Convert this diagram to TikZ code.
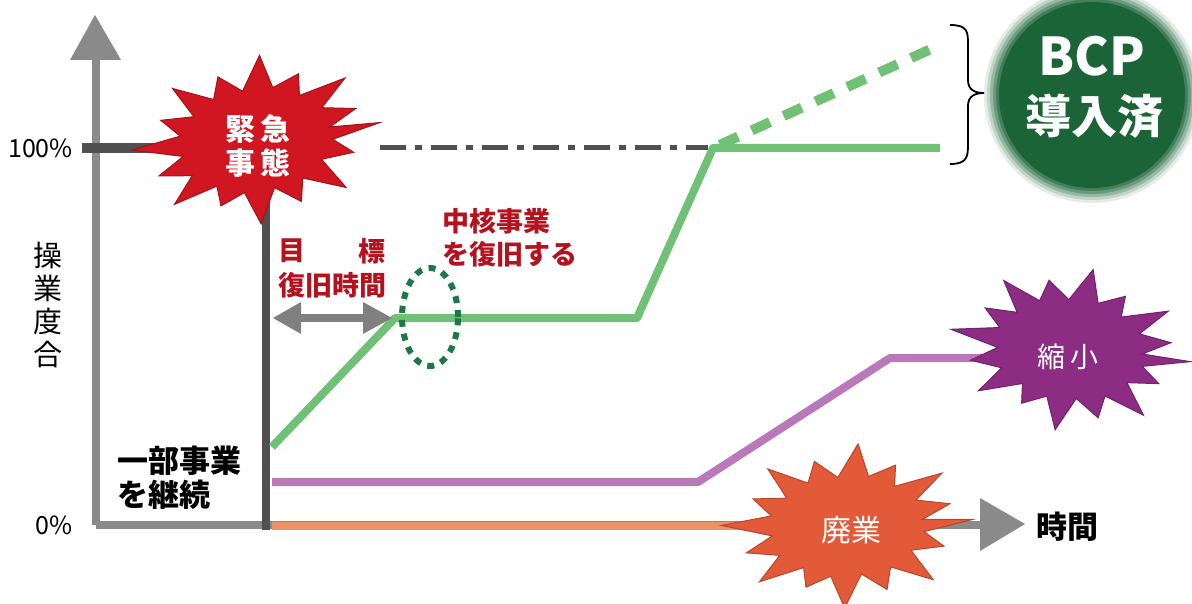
\documentclass[tikz,border=0pt]{standalone}
\usepackage{fontspec}
\setmainfont{Noto Sans CJK JP}
\usetikzlibrary{calc,shapes.geometric}
\definecolor{axisgray}{RGB}{138,138,138}
\definecolor{darkline}{RGB}{80,80,80}
\definecolor{lgreen}{RGB}{112,192,120}
\definecolor{dgreen}{RGB}{30,120,70}
\definecolor{bcpgreen}{RGB}{27,100,55}
\definecolor{burstred}{RGB}{208,22,32}
\definecolor{burstpurple}{RGB}{140,44,130}
\definecolor{burstorange}{RGB}{226,90,56}
\definecolor{lpurple}{RGB}{184,120,186}
\definecolor{lorange}{RGB}{234,146,104}
\definecolor{labelred}{RGB}{180,18,30}
\def\burstpts{11/0.62, 22/0.82, 34/0.6, 47/0.97, 58/0.62, 70/0.85, 81/0.6, 93/1.0, 104/0.62, 116/0.8, 127/0.6, 139/0.95, 150/0.63, 162/0.85, 173/0.6, 185/1.0, 196/0.62, 208/0.83, 219/0.6, 231/0.96, 242/0.62, 254/0.84, 265/0.6, 277/1.0, 288/0.62, 300/0.82, 311/0.6, 323/0.97, 334/0.62, 346/0.85, 357/0.6}
\newcommand\myburst[5]{%
  \begin{scope}[shift={(#1)},x=#2pt,y=-#3pt,rotate=#5]
    \filldraw[fill=#4,draw=#4!80!black,line width=1pt,line join=miter] (0:1) \foreach \a/\r in \burstpts { -- (\a:\r) } -- cycle;
  \end{scope}}
\tikzset{
  axisline/.style={axisgray,line width=8pt},
  gline/.style={lgreen,line width=8pt,line join=round},
  jtext/.style={font=\fontsize{27}{30}\selectfont\bfseries,inner sep=0pt},
  redlabel/.style={jtext,text=labelred},
  whitelabel/.style={font=\fontsize{30}{34}\selectfont,text=white,inner sep=0pt},
  blacklabel/.style={font=\fontsize{31}{35}\selectfont\bfseries,inner sep=0pt},
}
\begin{document}
\begin{tikzpicture}[x=1pt,y=-1pt]
\useasboundingbox (0,0) rectangle (1192,604);
% coordinates
\coordinate (o) at (96,525);
\coordinate (ytop) at (96,60);
\coordinate (xend) at (980,525);
\coordinate (hund) at (82,148);
\coordinate (ev) at (266,148);
\coordinate (evb) at (266,530);
% axes
\draw[axisline] (o) -- (ytop);
\fill[axisgray] (70,60) -- (121,60) -- (95,15) -- cycle;
\draw[axisline] (o) -- (xend);
\fill[axisgray] (980,498) -- (980,551) -- (1025,524) -- cycle;
% 100% line and event line
\draw[darkline,line width=10pt] (hund) -- (ev);
\draw[darkline,line width=8pt] (ev) -- (evb);
% dash-dot line
\coordinate (dd1) at (380,148);
\coordinate (dd2) at (708,148);
\draw[darkline,line width=5pt,dash pattern=on 26pt off 9pt on 7pt off 9pt] (dd1) -- (dd2);
% green recovery line
\coordinate (g0) at (272,447);
\coordinate (g1) at (395,318);
\coordinate (g2) at (637,318);
\coordinate (g3) at (713,148);
\coordinate (g4) at (940,148);
\coordinate (g5) at (942,44);
\draw[gline] (g0) -- (g1) -- (g2) -- (g3) -- (g4);
\draw[lgreen,line width=10pt,dash pattern=on 20pt off 15pt] ($(g3)!0.03!(g5)$) -- (g5);
% purple line
\coordinate (p0) at (272,482);
\coordinate (p1) at (698,482);
\coordinate (p2) at (890,358);
\coordinate (p3) at (1000,358);
\draw[lpurple,line width=8pt,line join=round] (p0) -- (p1) -- (p2) -- (p3);
% orange line
\coordinate (r0) at (272,526);
\coordinate (r1) at (850,526);
\draw[lorange,line width=8pt] (r0) -- (r1);
% double arrow
\coordinate (da1) at (273,318);
\coordinate (da2) at (392,318);
\draw[gray,line width=8pt] (298,318) -- (366,318);
\fill[gray] (da1) -- (301,302) -- (301,334) -- cycle;
\fill[gray] (da2) -- (363,302) -- (363,334) -- cycle;
% dotted ellipse
\node[draw=dgreen,line width=6pt,dash pattern=on 7pt off 7pt,ellipse,minimum width=56pt,minimum height=98pt,inner sep=0pt] (core) at (430,317) {};
% brace
\draw[black,line width=1.8pt] (950,25) .. controls (968,25) and (968,32) .. (968,45) -- (968,80) .. controls (968,90) and (975,93) .. (984,93) .. controls (975,93) and (968,96) .. (968,106) -- (968,143) .. controls (968,156) and (968,164) .. (950,164);
% BCP circle
\foreach \r/\o in {108/0.12,105/0.18,102/0.25,99/0.35,96/0.5,93/1}{
  \fill[bcpgreen,opacity=\o] (1092,95) circle (\r pt);
}
\node[font=\fontsize{52}{56}\selectfont\bfseries,text=white,inner sep=0pt] (bcp) at (1092,56) {BCP};
\node[font=\fontsize{46}{50}\selectfont\bfseries,text=white,inner sep=0pt] (dounyu) at (1094,116) {導入済};
% bursts
\myburst{256,140}{125}{84}{burstred}{8}
\myburst{1070,349}{121}{82}{burstpurple}{-6}
\myburst{847,526}{126}{82}{burstorange}{3}
% burst texts
\node[whitelabel,font=\fontsize{30}{34}\selectfont\bfseries,align=center] (kinkyu) at (258,146) {緊\,急\\事\,態};
\node[whitelabel,font=\fontsize{28}{32}\selectfont] (shukusho) at (1068,357) {縮\,小};
\node[whitelabel] (haigyo) at (851,530) {廃業};
% labels
\node[redlabel] (moku) at (292,251) {目};
\node[redlabel] (hyo) at (372,251) {標};
\node[redlabel] (fukkyu) at (332,285) {復旧時間};
\node[redlabel,anchor=west] (chukaku) at (442,221) {中核事業};
\node[redlabel,anchor=west] (wofukkyu) at (442,254) {を復旧する};
\node[font=\fontsize{29}{33}\selectfont,inner sep=0pt,align=center] (sogyo) at (48,305) {操\\業\\度\\合};
\node[font=\fontsize{25}{28}\selectfont,inner sep=0pt,anchor=east] (p100) at (73,148) {100\%};
\node[font=\fontsize{25}{28}\selectfont,inner sep=0pt,anchor=east] (p0l) at (73,525) {0\%};
\node[blacklabel,anchor=west] (ichibu) at (117,461) {一部事業};
\node[blacklabel,anchor=west] (keizoku) at (117,495) {を継続};
\node[blacklabel,anchor=west] (jikan) at (1036,527) {時間};
\end{tikzpicture}
\end{document}
